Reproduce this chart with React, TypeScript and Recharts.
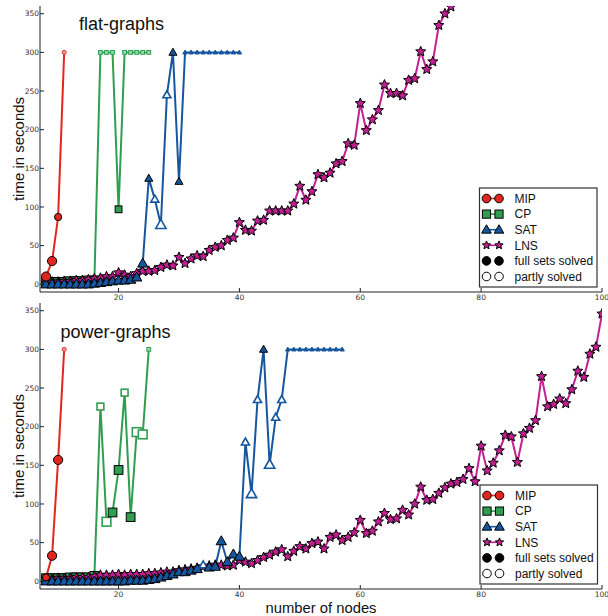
import React from 'react';
import { LineChart, Line, XAxis, YAxis } from 'recharts';

// ---------- axes ----------
const X_TICKS = [20, 40, 60, 80, 100];
const Y_TICKS = [0, 50, 100, 150, 200, 250, 300, 350];
const X_DOMAIN: [number, number] = [7, 100];
const Y_DOMAIN: [number, number] = [-10, 360];
const FIRST_NODE = 8;

// status codes: F = full set solved, f = full set solved (fewer instances),
// P = partly solved, p = partly solved (fewer instances), T = time-out (300 s)

// ---------- flat-graphs ----------
const FLAT_MIP = [10, 30, 87, 300];
const FLAT_MIP_STATUS = 'FFfT';

const FLAT_CP = [3, 3, 3, 3, 4, 4, 4, 5, 5, 300, 300, 300, 97, 300, 300, 300, 300, 300];
const FLAT_CP_STATUS = 'FFFFFFFFFTTTfTTTTT';

const FLAT_SAT = [0, 0, 0, 0, 0, 0, 0, 0, 1, 2, 3, 4, 5, 5, 6, 9,
  27, 137, 110, 77, 245, 300, 133,
  300, 300, 300, 300, 300, 300, 300, 300, 300, 300];
const FLAT_SAT_STATUS = 'FFFFFFFFFFFFFFFF' + 'FfpPpff' + 'TTTTTTTTTT';

const FLAT_LNS = [2, 3, 3, 4, 4, 5, 5, 6, 7,
  8, 10, 10, 15, 12, 10, 14, 17, 17, 18,
  22, 25, 24, 35, 27, 33, 37, 36, 44, 48,
  50, 57, 60, 80, 70, 69, 82, 83, 95, 95,
  95, 95, 104, 127, 109, 120, 142, 138, 144, 156,
  159, 182, 180, 234, 199, 213, 225, 258, 247, 247,
  244, 264, 266, 301, 278, 288, 335, 350, 359];

// ---------- power-graphs ----------
const POWER_MIP = [5, 33, 157, 300];
const POWER_MIP_STATUS = 'fFFT';

const POWER_CP = [4, 4, 4, 4, 5, 5, 5, 5, 7, 226, 77, 89, 144, 244, 83, 193, 190, 300];
const POWER_CP_STATUS = 'FFFFFFFF' + 'F' + 'pPFFpFPPT';

const POWER_SAT = [0, 0, 0, 0, 0, 0, 0, 0, 0, 0, 0, 0, 0, 0, 1, 1, 1, 2,
  3, 5, 7, 9, 12, 12, 14, 16, 21, 18, 19, 52, 25, 35, 32, 180, 113, 235, 300, 151, 212, 235,
  300, 300, 300, 300, 300, 300, 300, 300, 300, 300];
const POWER_SAT_STATUS = 'FFFFFFFFFFFFFFFFFFFFFFFFFF' + 'p' + 'FFFFFF' + 'pPpfPpp' + 'TTTTTTTTTT';

const POWER_LNS = [3, 3, 4, 4, 4, 5, 5, 5, 6,
  8, 8, 8, 9, 8, 9, 9, 9, 10, 10,
  11, 12, 12, 14, 15, 16, 17, 19, 20, 21,
  21, 20, 21, 27, 25, 23, 27, 31, 34, 38,
  41, 32, 39, 45, 42, 49, 51, 42, 57, 60,
  53, 57, 63, 79, 62, 65, 77, 88, 80, 81,
  92, 86, 100, 122, 105, 106, 114, 121, 126, 128,
  132, 146, 129, 175, 143, 153, 169, 189, 187, 154,
  191, 198, 208, 265, 226, 229, 236, 230, 248, 272,
  264, 294, 303, 346];

const COLORS = { MIP: '#e2261f', CP: '#2f9e50', SAT: '#15569f', LNS: '#c41f92' };
const TINTS = { MIP: '#f3a09b', CP: '#9fd6ad', SAT: '#15569f', LNS: '#c41f92' };

type Pt = { x: number; y: number; st: string };
const toPoints = (values: number[], status: string): Pt[] =>
  values.map((y, i) => ({ x: FIRST_NODE + i, y, st: status[i] || 'F' }));

function starPoints(cx: number, cy: number, R: number) {
  const pts: string[] = [];
  const inner = R * 0.45;
  for (let i = 0; i < 10; i++) {
    const a = -Math.PI / 2 + (i * Math.PI) / 5;
    const rr = i % 2 === 0 ? R : inner;
    pts.push(`${cx + rr * Math.cos(a)},${cy + rr * Math.sin(a)}`);
  }
  return pts.join(' ');
}

function Shape({ cx, cy, shape, r, fill, stroke, sw }: any) {
  if (shape === 'circle') return <circle cx={cx} cy={cy} r={r} fill={fill} stroke={stroke} strokeWidth={sw} />;
  if (shape === 'square') {
    const h = r * 0.95;
    return <rect x={cx - h} y={cy - h} width={2 * h} height={2 * h} fill={fill} stroke={stroke} strokeWidth={sw} />;
  }
  if (shape === 'triangle') {
    const p = `${cx},${cy - r * 1.15} ${cx - r * 1.12},${cy + r * 0.8} ${cx + r * 1.12},${cy + r * 0.8}`;
    return <polygon points={p} fill={fill} stroke={stroke} strokeWidth={sw} strokeLinejoin="miter" />;
  }
  return <polygon points={starPoints(cx, cy, r * 1.15)} fill={fill} stroke={stroke} strokeWidth={sw} />;
}

function Marker({ cx, cy, shape, name, st }: any) {
  if (cx == null || cy == null || isNaN(cx) || isNaN(cy)) return null;
  const color = (COLORS as any)[name];
  const tint = (TINTS as any)[name];
  let r = 3.6;
  if (st === 'F' || st === 'P') r = 4.6;
  if (st === 'T') r = 2;
  const open = st === 'P' || st === 'p';
  const fill = open ? '#fff' : st === 'T' ? tint : color;
  const stroke = open || st === 'T' ? color : '#000';
  const sw = open ? 1.6 : 1;
  return <Shape cx={cx} cy={cy} shape={shape} r={r} fill={fill} stroke={stroke} sw={sw} />;
}

const TICK_FONT = { fontFamily: 'DejaVu Sans', fontSize: 7.5, fill: '#333' };

function BottomTick({ x, y, payload }: any) {
  return (
    <g>
      <line x1={x} x2={x} y1={y} y2={y - 4} stroke="#222" />
      <text x={x} y={y + 8} textAnchor="middle" style={TICK_FONT}>{payload.value}</text>
    </g>
  );
}
function TopTick({ x, y }: any) {
  return <line x1={x} x2={x} y1={y} y2={y + 4} stroke="#222" />;
}
function LeftTick({ x, y, payload }: any) {
  return (
    <g>
      <line x1={x} x2={x + 4} y1={y} y2={y} stroke="#222" />
      <text x={x - 1} y={y} dy="0.35em" textAnchor="end" style={TICK_FONT}>{payload.value}</text>
    </g>
  );
}
function RightTick({ x, y }: any) {
  return <line x1={x} x2={x - 4} y1={y} y2={y} stroke="#222" />;
}

type Series = { name: string; shape: string; points: Pt[] };

function Panel({ top, series }: { top: number; series: Series[] }) {
  return (
    <div style={{ position: 'absolute', left: 0, top, width: 608, height: 304 }}>
      <LineChart width={608} height={304} margin={{ top: 6, right: 6, bottom: 4, left: 0 }} style={{ overflow: 'visible' }}>
        <XAxis xAxisId="b" type="number" dataKey="x" domain={X_DOMAIN} ticks={X_TICKS} allowDataOverflow
          height={8} tickSize={0} tickMargin={0} tickLine={false} interval={0}
          axisLine={{ stroke: '#222' }} tick={<BottomTick />} />
        <XAxis xAxisId="t" orientation="top" type="number" dataKey="x" domain={X_DOMAIN} ticks={X_TICKS} allowDataOverflow
          height={0} tickSize={0} tickMargin={0} tickLine={false} interval={0}
          axisLine={{ stroke: '#222' }} tick={<TopTick />} />
        <YAxis yAxisId="l" type="number" domain={Y_DOMAIN} ticks={Y_TICKS} allowDataOverflow
          width={40} tickSize={0} tickMargin={0} tickLine={false} interval={0}
          axisLine={{ stroke: '#222' }} tick={<LeftTick />} />
        <YAxis yAxisId="r" orientation="right" type="number" domain={Y_DOMAIN} ticks={Y_TICKS} allowDataOverflow
          width={0} tickSize={0} tickMargin={0} tickLine={false} interval={0}
          axisLine={{ stroke: '#222' }} tick={<RightTick />} />
        {series.map((s) => (
          <Line key={s.name} xAxisId="b" yAxisId="l" data={s.points} dataKey="y" type="linear"
            stroke={(COLORS as any)[s.name]} strokeWidth={2}
            dot={(p: any) => <Marker key={`${s.name}-${p.index}`} cx={p.cx} cy={p.cy} shape={s.shape} name={s.name} st={p.payload?.st} />}
            activeDot={false} isAnimationActive={false} />
        ))}
      </LineChart>
    </div>
  );
}

const LEGEND_ROWS = [
  { label: 'MIP', shape: 'circle', name: 'MIP' },
  { label: 'CP', shape: 'square', name: 'CP' },
  { label: 'SAT', shape: 'triangle', name: 'SAT' },
  { label: 'LNS', shape: 'star', name: 'LNS' },
  { label: 'full sets solved', shape: 'circle', name: 'full' },
  { label: 'partly solved', shape: 'circle', name: 'partly' },
];

function LegendBox({ x, y }: { x: number; y: number }) {
  return (
    <g>
      <rect x={x} y={y} width={117.5} height={99} fill="#fff" stroke="#333" strokeWidth={1.2} />
      {LEGEND_ROWS.map((r, i) => {
        const cy = y + 10.5 + i * 15.6;
        const m1 = x + 7;
        const m2 = x + 19.5;
        const isSeries = (COLORS as any)[r.name];
        const fill = isSeries ? (COLORS as any)[r.name] : r.name === 'full' ? '#000' : '#fff';
        const stroke = '#000';
        const rad = r.shape === 'star' ? 3.8 : 4.3;
        return (
          <g key={r.label}>
            {isSeries && <line x1={m1} x2={m2} y1={cy} y2={cy} stroke={isSeries} strokeWidth={1.6} />}
            <Shape cx={m1} cy={cy} shape={r.shape} r={rad} fill={fill} stroke={stroke} sw={1} />
            <Shape cx={m2} cy={cy} shape={r.shape} r={rad} fill={fill} stroke={stroke} sw={1} />
            <text x={x + 35} y={cy + 4.3} style={{ fontFamily: 'Liberation Sans', fontSize: 12, fill: '#111' }}>{r.label}</text>
          </g>
        );
      })}
    </g>
  );
}

const flatSeries: Series[] = [
  { name: 'CP', shape: 'square', points: toPoints(FLAT_CP, FLAT_CP_STATUS) },
  { name: 'LNS', shape: 'star', points: toPoints(FLAT_LNS, '') },
  { name: 'SAT', shape: 'triangle', points: toPoints(FLAT_SAT, FLAT_SAT_STATUS) },
  { name: 'MIP', shape: 'circle', points: toPoints(FLAT_MIP, FLAT_MIP_STATUS) },
];
const powerSeries: Series[] = [
  { name: 'CP', shape: 'square', points: toPoints(POWER_CP, POWER_CP_STATUS) },
  { name: 'LNS', shape: 'star', points: toPoints(POWER_LNS, '') },
  { name: 'SAT', shape: 'triangle', points: toPoints(POWER_SAT, POWER_SAT_STATUS) },
  { name: 'MIP', shape: 'circle', points: toPoints(POWER_MIP, POWER_MIP_STATUS) },
];

const LABEL_FONT = { fontFamily: 'Liberation Sans', fill: '#111' };

export default function App() {
  return (
    <div style={{ position: 'absolute', left: 0, top: 0, width: 608, height: 616, background: '#fff', overflow: 'hidden' }}>
      <Panel top={0} series={flatSeries} />
      <Panel top={297} series={powerSeries} />
      <svg width={608} height={616} style={{ position: 'absolute', left: 0, top: 0, pointerEvents: 'none' }}>
        <text x={79} y={30} style={{ ...LABEL_FONT, fontSize: 18 }}>flat-graphs</text>
        <text x={60.5} y={337.5} style={{ ...LABEL_FONT, fontSize: 18 }}>power-graphs</text>
        <text transform="translate(23.5,149) rotate(-90)" textAnchor="middle" style={{ ...LABEL_FONT, fontSize: 15 }}>time in seconds</text>
        <text transform="translate(23.5,446) rotate(-90)" textAnchor="middle" style={{ ...LABEL_FONT, fontSize: 15 }}>time in seconds</text>
        <text x={321} y={612.5} textAnchor="middle" style={{ ...LABEL_FONT, fontSize: 14.8 }}>number of nodes</text>
        <LegendBox x={479.5} y={188} />
        <LegendBox x={480} y={485} />
      </svg>
    </div>
  );
}
